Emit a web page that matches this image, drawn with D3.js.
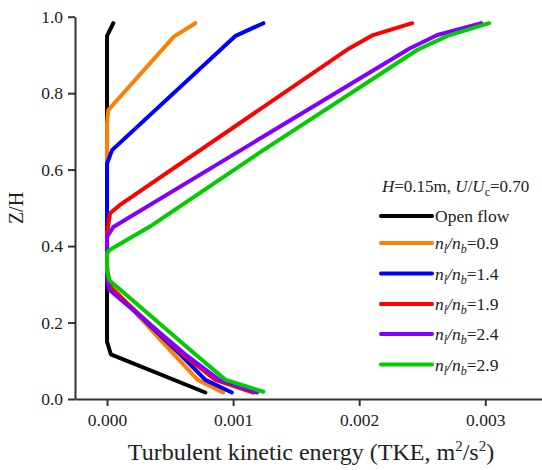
<!DOCTYPE html>
<meta charset="utf-8">
<style>
	body {
		margin: 0;
		background: #fff;
	}

	text {
		font-family: "Liberation Serif", "Times New Roman", serif;
		fill: #222;
	}

	.axis path,
	.axis line {
		stroke: #333;
		stroke-width: 2px;
	}

	.profile {
		fill: none;
		stroke-width: 4px;
		stroke-linejoin: round;
		stroke-linecap: round;
	}
</style>
<script src="https://cdn.jsdelivr.net/npm/d3@7"></script>

<body>
	<div id="chart"></div>

	<script>
		// TKE profiles, listed from the bed upwards
		let openZ = [0.017, 0.117, 0.15, 0.3, 0.5, 0.7, 0.95, 0.983];
		let openX = [0.00078, 0.00003, 0.0, 0.0, 0.0, 0.0, 0.0, 0.00005];

		let r09Z = [0.017, 0.05, 0.117, 0.3, 0.35, 0.5, 0.72, 0.756, 0.948, 0.983];
		let r09X = [0.00092, 0.00072, 0.00053, 0.00002, 0.0, 0.0, 0.0, 0.00001, 0.00053, 0.0007];

		let r14Z = [0.017, 0.05, 0.117, 0.29, 0.33, 0.6, 0.616, 0.651, 0.95, 0.983];
		let r14X = [0.00099, 0.00078, 0.00058, 0.00003, 0.0, 0.0, 0.0, 0.00004, 0.00102, 0.00124];

		let r19Z = [0.017, 0.05, 0.117, 0.29, 0.32, 0.433, 0.486, 0.507, 0.917, 0.952, 0.983];
		let r19X = [0.00116, 0.00086, 0.0006, 0.00003, 0.0, 0.0, 0.000024, 0.0001, 0.00192, 0.00211, 0.00242];

		let r24Z = [0.017, 0.05, 0.117, 0.285, 0.31, 0.4, 0.424, 0.45, 0.917, 0.952, 0.983];
		let r24X = [0.00119, 0.00089, 0.00062, 0.00002, 0.0, 0.0, 0.0, 0.00005, 0.0024, 0.00262, 0.00297];

		let r29Z = [0.019, 0.05, 0.117, 0.31, 0.337, 0.38, 0.39, 0.451, 0.651, 0.913, 0.95, 0.983];
		let r29X = [0.00124, 0.00094, 0.0007, 0.00002, 0.0, 0.0, 0.00002, 0.00034, 0.00124, 0.00246, 0.0027, 0.00303];

		let seriesNames = ["Open flow", "0.9", "1.4", "1.9", "2.4", "2.9"];
		let seriesColors = ["#000000", "#ff7f00", "#0000ff", "#ff0000", "#8000ff", "#00cc00"];
		let seriesZ = [openZ, r09Z, r14Z, r19Z, r24Z, r29Z];
		let seriesX = [openX, r09X, r14X, r19X, r24X, r29X];

		let xTicks = [0, 0.001, 0.002, 0.003];
		let yTicks = [0, 0.2, 0.4, 0.6, 0.8, 1.0];

		let width = 542, height = 470;
		let serif = "'Liberation Serif', 'Times New Roman', serif";

		let svg = d3.select("#chart")
			.append("svg")
			.attr("width", width)
			.attr("height", height);

		let x = d3.scaleLinear()
			.domain([-0.000254, 0.00345])
			.range([75, 542]);

		let y = d3.scaleLinear()
			.domain([0, 1])
			.range([399, 16.7]);

		function styleTicks(g) {
			g.attr("font-family", null).attr("font-size", null);
			g.selectAll("text")
				.style("font-family", serif)
				.style("font-size", "17.5px")
				.attr("fill", "#222");
		}

		// axes
		svg.append("g")
			.attr("class", "axis")
			.attr("transform", "translate(0," + y(0) + ")")
			.call(d3.axisBottom(x).tickValues(xTicks).tickFormat(d3.format(".3f")).tickSize(7).tickSizeOuter(0).tickPadding(8))
			.call(styleTicks);

		svg.append("g")
			.attr("class", "axis")
			.attr("transform", "translate(" + x.range()[0] + ",0)")
			.call(d3.axisLeft(y).tickValues(yTicks).tickFormat(d3.format(".1f")).tickSize(7).tickSizeOuter(0).tickPadding(5))
			.call(styleTicks);

		// axis titles
		let xt = svg.append("text")
			.attr("x", 311)
			.attr("y", 460)
			.attr("text-anchor", "middle")
			.style("font-size", "24px");
		xt.append("tspan").text("Turbulent kinetic energy (TKE, m");
		xt.append("tspan").attr("dy", -9).style("font-size", "15px").text("2");
		xt.append("tspan").attr("dy", 9).text("/s");
		xt.append("tspan").attr("dy", -9).style("font-size", "15px").text("2");
		xt.append("tspan").attr("dy", 9).text(")");

		svg.append("text")
			.attr("transform", "translate(23,208) rotate(-90)")
			.attr("text-anchor", "middle")
			.style("font-size", "20px")
			.text("Z/H");

		// profiles
		let line = d3.line()
			.x(d => x(d[0]))
			.y(d => y(d[1]));

		seriesZ.forEach(function (zs, i) {
			let pts = zs.map((z, k) => [seriesX[i][k], z]);
			svg.append("path")
				.attr("class", "profile")
				.attr("stroke", seriesColors[i])
				.attr("d", line(pts));
		});

		// legend
		let legend = svg.append("g").attr("id", "legend");

		let lt = legend.append("text")
			.attr("x", 382)
			.attr("y", 192)
			.style("font-size", "17px");
		lt.append("tspan").style("font-style", "italic").text("H");
		lt.append("tspan").text("=0.15m, ");
		lt.append("tspan").style("font-style", "italic").text("U");
		lt.append("tspan").text("/");
		lt.append("tspan").style("font-style", "italic").text("U");
		lt.append("tspan").attr("dy", 4).style("font-size", "12px").text("c");
		lt.append("tspan").attr("dy", -4).text("=0.70");

		let rowY = [216, 243, 273.5, 304, 334, 364.5];

		legend.selectAll("line.key")
			.data(seriesNames)
			.join("line")
			.attr("class", "key")
			.attr("x1", 381)
			.attr("x2", 432)
			.attr("y1", (d, i) => rowY[i])
			.attr("y2", (d, i) => rowY[i])
			.attr("stroke", (d, i) => seriesColors[i])
			.attr("stroke-width", 4)
			.attr("stroke-linecap", "round");

		legend.selectAll("text.label")
			.data(seriesNames)
			.join("text")
			.attr("class", "label")
			.attr("x", 435)
			.attr("y", (d, i) => rowY[i] + 6)
			.style("font-size", "17.5px")
			.each(function (d, i) {
				let t = d3.select(this);
				if (i === 0) {
					t.text(d);
					return;
				}
				t.append("tspan").style("font-style", "italic").text("n");
				t.append("tspan").attr("dy", 4).style("font-size", "12px").style("font-style", "italic").text("l");
				t.append("tspan").attr("dy", -4).style("font-style", "italic").text("/n");
				t.append("tspan").attr("dy", 4).style("font-size", "12px").style("font-style", "italic").text("b");
				t.append("tspan").attr("dy", -4).text("=" + d);
			});
	</script>
</body>
